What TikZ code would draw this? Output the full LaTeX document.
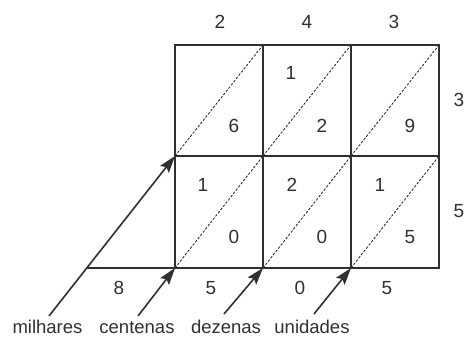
\documentclass[tikz,border=0pt]{standalone}
\usepackage{fontspec}
\setmainfont{Liberation Sans}
\usetikzlibrary{arrows.meta}
\definecolor{ink}{HTML}{303030}
\begin{document}
\begin{tikzpicture}[x=1pt,y=-1pt,
  gridline/.style={draw=ink, line width=2.1pt},
  diag/.style={draw=ink, line width=0.9pt, dash pattern=on 2.5pt off 1.6pt},
  digit/.style={font=\fontsize{19}{19}\selectfont, text=ink, inner sep=0pt},
  word/.style={font=\fontsize{18.5}{18.5}\selectfont, text=ink, inner sep=0pt, anchor=base},
  pointer/.style={draw=ink, line width=1.6pt, -{Stealth[length=17pt,width=11pt,inset=3pt]}}]
\useasboundingbox (0,0) rectangle (466,337);
% grid corners
\foreach \i/\x in {0/175,1/263,2/351,3/439}
  \foreach \j/\y in {0/45,1/156,2/268}
    \coordinate (p\i\j) at (\x,\y);
\coordinate (q) at (87,268);
% grid
\draw[gridline] (p00) rectangle (p32);
\draw[gridline] (p10) -- (p12);
\draw[gridline] (p20) -- (p22);
\draw[gridline] (p01) -- (p31);
\draw[gridline] (q) -- (p02);
% diagonals
\draw[diag] (p01) -- (p10);
\draw[diag] (p11) -- (p20);
\draw[diag] (p21) -- (p30);
\draw[diag] (p02) -- (p11);
\draw[diag] (p12) -- (p21);
\draw[diag] (p22) -- (p31);
% top factor
\node[digit] (t1) at (220,22) {2};
\node[digit] (t2) at (307,22) {4};
\node[digit] (t3) at (394,22) {3};
% right factor
\node[digit] (r1) at (459,100) {3};
\node[digit] (r2) at (459,211) {5};
% cell digits
\node[digit] (a1) at (234,126) {6};
\node[digit] (b0) at (291,73) {1};
\node[digit] (b1) at (322,126) {2};
\node[digit] (c1) at (410,126) {9};
\node[digit] (d0) at (203,185) {1};
\node[digit] (d1) at (234,237) {0};
\node[digit] (e0) at (292,185) {2};
\node[digit] (e1) at (322,237) {0};
\node[digit] (f0) at (380,185) {1};
\node[digit] (f1) at (410,237) {5};
% result
\node[digit] (s1) at (119,288) {8};
\node[digit] (s2) at (211,288) {5};
\node[digit] (s3) at (300,288) {0};
\node[digit] (s4) at (387,288) {5};
% words
\node[word] (w1) at (47.5,333) {milhares};
\node[word] (w2) at (137,333) {centenas};
\node[word] (w3) at (226,333) {dezenas};
\node[word] (w4) at (312,333) {unidades};
% arrow tails
\coordinate (m1) at (49,316);
\coordinate (m2) at (138,316);
\coordinate (m3) at (224,314);
\coordinate (m4) at (314,314);
\draw[pointer] (m1) -- (p01);
\draw[pointer] (m2) -- (p02);
\draw[pointer] (m3) -- (p12);
\draw[pointer] (m4) -- (p22);
\end{tikzpicture}
\end{document}
